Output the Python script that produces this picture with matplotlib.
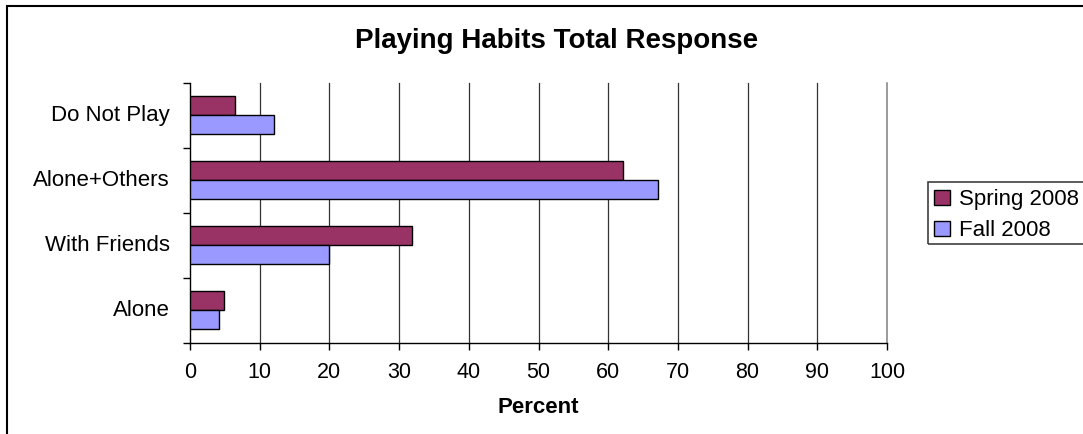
import matplotlib
matplotlib.use("Agg")
import matplotlib.pyplot as plt
from matplotlib.patches import Rectangle
import numpy as np

plt.rcParams['font.family'] = ['Liberation Sans', 'DejaVu Sans']

# Response categories (bottom to top) and percentages per survey
categories = ["Alone", "With Friends", "Alone+Others", "Do Not Play"]
spring_2008 = [4.9, 31.8, 62.1, 6.4]
fall_2008 = [4.1, 20.0, 67.1, 12.0]
x_ticks = list(range(0, 101, 10))

SPRING_COLOR = "#993366"
FALL_COLOR = "#9999FF"

W, H, DPI = 1083, 434, 100
fig = plt.figure(figsize=(W / DPI, H / DPI), dpi=DPI)

# outer chart frame
fig.patches.append(Rectangle((7 / W, -0.1), 1.2, 1 - 6 / H + 0.1,
                             transform=fig.transFigure, fill=False,
                             edgecolor="black", linewidth=1.5))

left, right = 190 / W, 887 / W
bottom, top = 1 - 342.7 / H, 1 - 82.7 / H
ax = fig.add_axes([left, bottom, right - left, top - bottom])

y = np.arange(len(categories))
bh = 0.288
ax.barh(y + bh / 2, spring_2008, height=bh, color=SPRING_COLOR,
        edgecolor="black", linewidth=1.0, label="Spring 2008", zorder=3)
ax.barh(y - bh / 2, fall_2008, height=bh, color=FALL_COLOR,
        edgecolor="black", linewidth=1.0, label="Fall 2008", zorder=3)

ax.set_xlim(0, 100)
ax.set_ylim(-0.5, len(categories) - 0.5)

# vertical gridlines
for v in x_ticks[1:]:
    ax.axvline(v, color="#808080" if v == 100 else "#333333",
               linewidth=1.1 if v == 100 else 0.9, zorder=1, clip_on=False)

for s in ["top", "right"]:
    ax.spines[s].set_visible(False)
ax.spines["left"].set_linewidth(1.0)
ax.spines["bottom"].set_linewidth(1.0)

ax.set_xticks(x_ticks)
ax.set_xticklabels([str(t) for t in x_ticks], fontsize=15.5)
ax.tick_params(axis="x", direction="out", length=5, width=1.0, pad=9)

# category boundaries carry the ticks; labels sit at category centres
ax.set_yticks(np.arange(-0.5, len(categories), 1.0))
ax.set_yticklabels([])
ax.tick_params(axis="y", direction="out", length=5, width=1.0)
for yi, name in zip(y, categories):
    ax.annotate(name, xy=(0, yi), xycoords=("axes fraction", "data"),
                xytext=(-20, 0), textcoords="offset pixels",
                ha="right", va="center", fontsize=16)

ax.set_xlabel("Percent", fontsize=16, fontweight="bold", labelpad=10)

fig.text(557 / W, 1 - 41 / H, "Playing Habits Total Response",
         ha="center", va="center", fontsize=20, fontweight="bold")

# legend box runs past the right edge of the chart
fig.patches.append(Rectangle((927.7 / W, 1 - 244.3 / H), 0.2,
                             (244.3 - 181.7) / H, transform=fig.transFigure,
                             fill=False, edgecolor="#404040", linewidth=1.2,
                             zorder=5))
leg = ax.legend(loc="upper left", bbox_to_anchor=(930 / W, 1 - 185 / H),
                bbox_transform=fig.transFigure, fontsize=16,
                frameon=False, handlelength=0.7,
                handleheight=0.7, handletextpad=0.4, labelspacing=0.45,
                borderpad=0.2, borderaxespad=0)

fig.savefig("out.png", dpi=DPI)
